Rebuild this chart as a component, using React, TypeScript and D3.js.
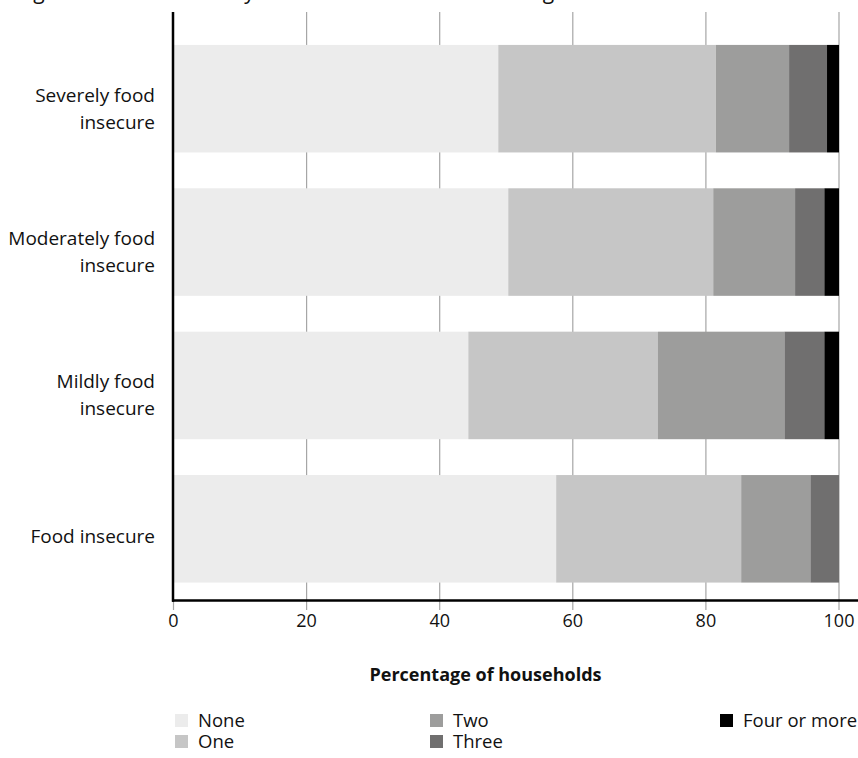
import React from "react";
import * as d3 from "d3";

const categories = ["Severely food insecure", "Moderately food insecure", "Mildly food insecure", "Food insecure"];
const categoryLines = [["Severely food", "insecure"], ["Moderately food", "insecure"], ["Mildly food", "insecure"], ["Food insecure"]];
const seriesNames = ["None", "One", "Two", "Three", "Four or more"];
const noneValues = [48.8, 50.3, 44.3, 57.5];
const oneValues = [32.7, 30.8, 28.5, 27.8];
const twoValues = [11.0, 12.3, 19.0, 10.4];
const threeValues = [5.7, 4.4, 6.0, 4.3];
const fourValues = [1.8, 2.2, 2.2, 0];
const xTicks = [0, 20, 40, 60, 80, 100];
const colors = ["#ececec", "#c6c6c6", "#9d9d9c", "#706f6f", "#000000"];
const titleText = "Figure 3.7: Food security and number of infectious diagnoses";
const xTitle = "Percentage of households";

const FONT = "'Open Sans', sans-serif";

export default function App() {
  const W = 858, H = 758;
  const x = d3.scaleLinear().domain([0, 100]).range([173.5, 839]);
  const y = d3.scaleBand<string>().domain(categories).range([27, 600.5]).paddingInner(0.25).paddingOuter(0.125);
  const table = categories.map((c, i) => ({
    cat: c,
    None: noneValues[i],
    One: oneValues[i],
    Two: twoValues[i],
    Three: threeValues[i],
    "Four or more": fourValues[i],
  }));
  const stack = d3.stack<any>().keys(seriesNames)(table);
  const axisY = 600.5;
  const gridTop = 12;
  const legendCols = [175, 430, 720];
  const legendRows = [727, 748];
  const legendPos = [
    [0, 0], [0, 1], [1, 0], [1, 1], [2, 0],
  ];

  return (
    <svg width={W} height={H} style={{ position: "absolute", left: 0, top: 0, background: "#fff" }} fontFamily={FONT}>
      <rect width={W} height={H} fill="#fff" />
      <text x={17} y={-1} fontSize={21} fill="#111">{titleText}</text>
      {xTicks.filter((t) => t > 0).map((t) => (
        <line key={"g" + t} x1={x(t)} x2={x(t)} y1={gridTop} y2={610} stroke="#a6a6a6" strokeWidth={1.2} />
      ))}
      <line x1={x(0)} x2={x(0)} y1={axisY} y2={610} stroke="#a6a6a6" strokeWidth={1.2} />
      {stack.map((s, si) => (
        <g key={s.key} fill={colors[si]}>
          {s.map((d: any, i: number) => (
            <rect key={i} x={x(d[0])} y={y(categories[i])} width={Math.max(0, x(d[1]) - x(d[0]))} height={y.bandwidth()} />
          ))}
        </g>
      ))}
      <line x1={173} x2={173} y1={gridTop} y2={axisY + 1.2} stroke="#000" strokeWidth={2.5} />
      <line x1={172} x2={W} y1={axisY} y2={axisY} stroke="#000" strokeWidth={2.5} />
      {xTicks.map((t) => (
        <text key={"t" + t} x={x(t)} y={627} textAnchor="middle" fontSize={18} fill="#111">{t}</text>
      ))}
      {categories.map((c, i) => {
        const lines = categoryLines[i];
        const cy = (y(c) as number) + y.bandwidth() / 2;
        const base = lines.length === 1 ? cy + 14 : cy + 3;
        return (
          <text key={c} textAnchor="end" fontSize={19} fill="#111">
            {lines.map((l, li) => (
              <tspan key={li} x={155} y={base + li * 27}>{l}</tspan>
            ))}
          </text>
        );
      })}
      <text x={485.5} y={681} textAnchor="middle" fontSize={18} fontWeight="bold" fill="#111">{xTitle}</text>
      {seriesNames.map((n, i) => {
        const [col, row] = legendPos[i];
        const lx = legendCols[col];
        const ly = legendRows[row];
        return (
          <g key={n}>
            <rect x={lx} y={ly - 13} width={13} height={13} fill={colors[i]} />
            <text x={lx + 23} y={ly} fontSize={18.5} fill="#111">{n}</text>
          </g>
        );
      })}
    </svg>
  );
}
